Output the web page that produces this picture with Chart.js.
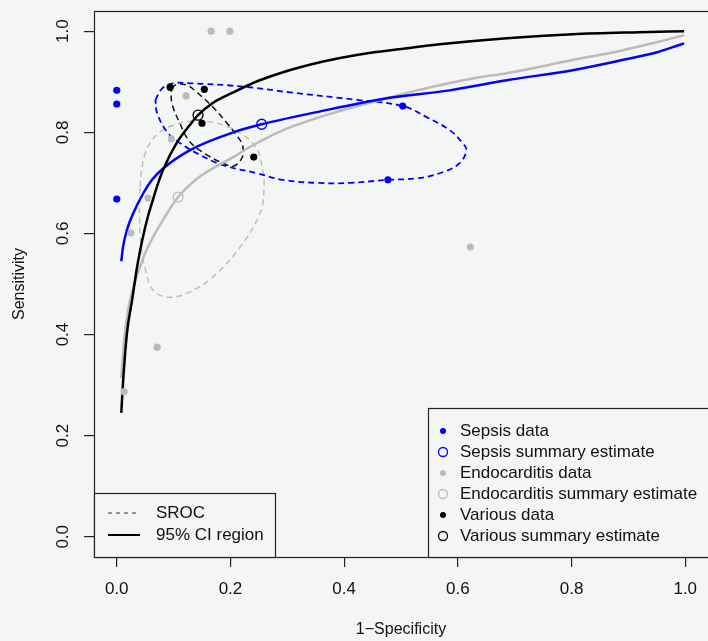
<!DOCTYPE html>
<html>
<head>
<meta charset="utf-8">
<script src="https://cdn.jsdelivr.net/npm/chart.js@4.4.0/dist/chart.umd.min.js"></script>
<style>
  html, body { margin: 0; padding: 0; background: #f4f5f5; }
</style>
</head>
<body>
<canvas id="myChart" width="708" height="641"></canvas>
<script>
// point data
const sepsisX = [0, 0, 0, 0.503, 0.477];
const sepsisY = [0.883, 0.856, 0.668, 0.852, 0.706];
const sepsisSummary = [0.255, 0.816];

const endoX = [0.166, 0.199, 0.122, 0.096, 0.055, 0.025, 0.071, 0.013, 0.622];
const endoY = [1.0, 1.0, 0.872, 0.787, 0.670, 0.601, 0.375, 0.287, 0.573];
const endoSummary = [0.108, 0.672];

const variousX = [0.094, 0.154, 0.150, 0.241];
const variousY = [0.889, 0.885, 0.818, 0.751];
const variousSummary = [0.143, 0.834];

// SROC curves
const blueCurveX = [0.008, 0.011, 0.018, 0.029, 0.047, 0.062, 0.082, 0.129, 0.205, 0.255, 0.352, 0.468, 0.586, 0.686, 0.802, 0.889, 0.949, 0.977, 0.998];
const blueCurveY = [0.545, 0.573, 0.607, 0.640, 0.680, 0.706, 0.729, 0.765, 0.800, 0.816, 0.840, 0.866, 0.883, 0.903, 0.923, 0.943, 0.958, 0.968, 0.976];

const grayCurveX = [0.008, 0.013, 0.020, 0.029, 0.047, 0.064, 0.082, 0.108, 0.147, 0.205, 0.234, 0.292, 0.380, 0.450, 0.528, 0.638, 0.686, 0.802, 0.889, 0.949, 0.998];
const grayCurveY = [0.314, 0.389, 0.449, 0.492, 0.553, 0.593, 0.628, 0.672, 0.713, 0.751, 0.771, 0.804, 0.838, 0.860, 0.883, 0.909, 0.917, 0.943, 0.962, 0.978, 0.992];

const blackCurveX = [0.008, 0.011, 0.018, 0.027, 0.036, 0.045, 0.054, 0.064, 0.073, 0.082, 0.106, 0.129, 0.143, 0.169, 0.205, 0.247, 0.287, 0.363, 0.422, 0.515, 0.568, 0.686, 0.802, 0.919, 0.998];
const blackCurveY = [0.245, 0.304, 0.403, 0.468, 0.535, 0.587, 0.630, 0.668, 0.700, 0.727, 0.780, 0.815, 0.834, 0.858, 0.879, 0.901, 0.917, 0.940, 0.953, 0.967, 0.974, 0.986, 0.994, 0.998, 1.0];

// confidence ellipses (dashed)
const blueEllX = [0.068, 0.080, 0.099, 0.129, 0.217, 0.305, 0.423, 0.503, 0.545, 0.586, 0.608, 0.615, 0.603, 0.573, 0.528, 0.477, 0.410, 0.352, 0.292, 0.247, 0.187, 0.147, 0.111, 0.089, 0.071, 0.068];
const blueEllY = [0.864, 0.887, 0.897, 0.897, 0.891, 0.879, 0.864, 0.852, 0.830, 0.804, 0.779, 0.765, 0.739, 0.721, 0.709, 0.706, 0.700, 0.700, 0.706, 0.719, 0.735, 0.755, 0.779, 0.800, 0.838, 0.864];

const grayEllX = [0.041, 0.044, 0.050, 0.060, 0.074, 0.092, 0.129, 0.176, 0.217, 0.245, 0.256, 0.259, 0.252, 0.217, 0.169, 0.124, 0.089, 0.064, 0.052, 0.043, 0.040, 0.041];
const grayEllY = [0.692, 0.728, 0.758, 0.781, 0.799, 0.811, 0.822, 0.818, 0.798, 0.770, 0.730, 0.686, 0.640, 0.573, 0.514, 0.482, 0.474, 0.488, 0.522, 0.573, 0.640, 0.692];

const blackEllX = [0.096, 0.106, 0.124, 0.141, 0.169, 0.194, 0.213, 0.222, 0.220, 0.205, 0.187, 0.159, 0.129, 0.111, 0.097, 0.096];
const blackEllY = [0.887, 0.895, 0.893, 0.879, 0.850, 0.818, 0.791, 0.771, 0.749, 0.733, 0.739, 0.755, 0.781, 0.818, 0.858, 0.887];

const tickValues = [0, 0.2, 0.4, 0.6, 0.8, 1.0];
const pointLegend = ['Sepsis data', 'Sepsis summary estimate', 'Endocarditis data', 'Endocarditis summary estimate', 'Various data', 'Various summary estimate'];
const lineLegend = ['SROC', '95% CI region'];

const BLUE = '#0000ff';
const GRAY = '#bbbbbb';
const BLACK = '#000000';
const BG = '#f4f5f5';
const FONT = '"Liberation Sans", Arial, Helvetica, sans-serif';

const pts = (xs, ys) => xs.map((x, i) => ({x: x, y: ys[i]}));

function dots(data, color) {
  return {data, pointRadius: 3.6, pointBackgroundColor: color, pointBorderWidth: 0, showLine: false};
}
function ring(data, color) {
  return {data, pointRadius: 5, pointBackgroundColor: 'rgba(0,0,0,0)', pointBorderColor: color, pointBorderWidth: 1.3, showLine: false};
}
function curve(data, color) {
  return {data, showLine: true, pointRadius: 0, borderColor: color, borderWidth: 2.5, cubicInterpolationMode: 'monotone', fill: false};
}
function ellipse(data, color, width) {
  return {data, showLine: true, pointRadius: 0, borderColor: color, borderWidth: width, borderDash: [6, 4], tension: 0.4, fill: false};
}

const data = {
  datasets: [
    dots(pts(sepsisX, sepsisY), BLUE),
    dots(pts(variousX, variousY), BLACK),
    dots(pts(endoX, endoY), GRAY),
    ring([{x: sepsisSummary[0], y: sepsisSummary[1]}], BLUE),
    ring([{x: variousSummary[0], y: variousSummary[1]}], BLACK),
    ring([{x: endoSummary[0], y: endoSummary[1]}], GRAY),
    curve(pts(blackCurveX, blackCurveY), BLACK),
    curve(pts(blueCurveX, blueCurveY), BLUE),
    curve(pts(grayCurveX, grayCurveY), GRAY),
    ellipse(pts(blueEllX, blueEllY), BLUE, 1.8),
    ellipse(pts(blackEllX, blackEllY), '#111', 1.5),
    ellipse(pts(grayEllX, grayEllY), GRAY, 1.4)
  ]
};

// R style frame, labels and the two legend boxes
const rFrame = {
  id: 'rFrame',
  beforeDraw(chart) {
    const ctx = chart.ctx;
    ctx.save();
    ctx.fillStyle = BG;
    ctx.fillRect(0, 0, chart.width, chart.height);
    ctx.restore();
  },
  afterDraw(chart) {
    const {ctx, chartArea: {top, bottom, left, right}, scales: {x, y}} = chart;
    ctx.save();
    ctx.strokeStyle = '#222';
    ctx.lineWidth = 1.2;
    ctx.strokeRect(left + 0.5, top + 0.5, right - left + 2, bottom - top);

    ctx.fillStyle = '#111';
    ctx.font = '17px ' + FONT;
    ctx.textAlign = 'center';
    ctx.textBaseline = 'middle';
    tickValues.forEach(v => {
      ctx.fillText(v.toFixed(1), x.getPixelForValue(v), 589);
    });
    tickValues.forEach(v => {
      ctx.save();
      ctx.translate(63, y.getPixelForValue(v));
      ctx.rotate(-Math.PI / 2);
      ctx.fillText(v.toFixed(1), 0, 0);
      ctx.restore();
    });
    ctx.font = '16px ' + FONT;
    ctx.fillText('1\u2212Specificity', (x.getPixelForValue(0) + x.getPixelForValue(1)) / 2, 630);
    ctx.save();
    ctx.translate(20, (top + bottom) / 2);
    ctx.rotate(-Math.PI / 2);
    ctx.fillText('Sensitivity', 0, 0);
    ctx.restore();

    // point legend, bottom right
    const lx = 428, ly = 408;
    ctx.fillStyle = BG;
    ctx.fillRect(lx, ly, right - lx + 2, bottom - ly);
    ctx.strokeStyle = '#222';
    ctx.strokeRect(lx + 0.5, ly + 0.5, right - lx + 4, bottom - ly);
    const cols = [BLUE, BLUE, GRAY, GRAY, BLACK, BLACK];
    ctx.font = '17px ' + FONT;
    ctx.textAlign = 'left';
    pointLegend.forEach((txt, i) => {
      const yy = 431 + i * 21;
      ctx.beginPath();
      if (i % 2 === 0) {
        ctx.fillStyle = cols[i];
        ctx.arc(443, yy, 3, 0, Math.PI * 2);
        ctx.fill();
      } else {
        ctx.strokeStyle = cols[i];
        ctx.lineWidth = 1.3;
        ctx.arc(443, yy, 4.5, 0, Math.PI * 2);
        ctx.stroke();
      }
      ctx.fillStyle = '#111';
      ctx.fillText(txt, 460, yy);
    });

    // line legend, bottom left
    const bx = left, by = 493, bw = 275 - left;
    ctx.fillStyle = BG;
    ctx.fillRect(bx, by, bw, bottom - by);
    ctx.strokeStyle = '#222';
    ctx.lineWidth = 1.2;
    ctx.strokeRect(bx + 0.5, by + 0.5, bw, bottom - by);
    lineLegend.forEach((txt, i) => {
      const yy = 513 + i * 22;
      ctx.beginPath();
      ctx.strokeStyle = i === 0 ? '#333' : '#000';
      ctx.lineWidth = i === 0 ? 1 : 2;
      ctx.setLineDash(i === 0 ? [4, 4] : []);
      ctx.moveTo(108, yy);
      ctx.lineTo(140, yy);
      ctx.stroke();
      ctx.setLineDash([]);
      ctx.fillStyle = '#111';
      ctx.fillText(txt, 156, yy);
    });
    ctx.restore();
  }
};

function fixTicks(scale) {
  scale.ticks = tickValues.map(v => ({value: v}));
}

const config = {
  type: 'scatter',
  data,
  options: {
    responsive: false,
    animation: false,
    layout: {autoPadding: false, padding: {top: 11, right: 0, left: 0, bottom: 0}},
    scales: {
      x: {
        type: 'linear',
        min: -0.04,
        max: 1.04,
        afterBuildTicks: fixTicks,
        afterFit(scale) { scale.height = 84; },
        ticks: {display: false},
        border: {display: false},
        grid: {drawOnChartArea: false, drawTicks: true, tickLength: 10, color: '#222', lineWidth: 1.2}
      },
      y: {
        type: 'linear',
        min: -0.04,
        max: 1.04,
        afterBuildTicks: fixTicks,
        afterFit(scale) { scale.width = 94; },
        ticks: {display: false},
        border: {display: false},
        grid: {drawOnChartArea: false, drawTicks: true, tickLength: 10, color: '#222', lineWidth: 1.2}
      }
    },
    plugins: {
      legend: {display: false},
      tooltip: {enabled: false}
    }
  },
  plugins: [rFrame]
};

const myChart = new Chart(document.getElementById('myChart'), config);
</script>
</body>
</html>
